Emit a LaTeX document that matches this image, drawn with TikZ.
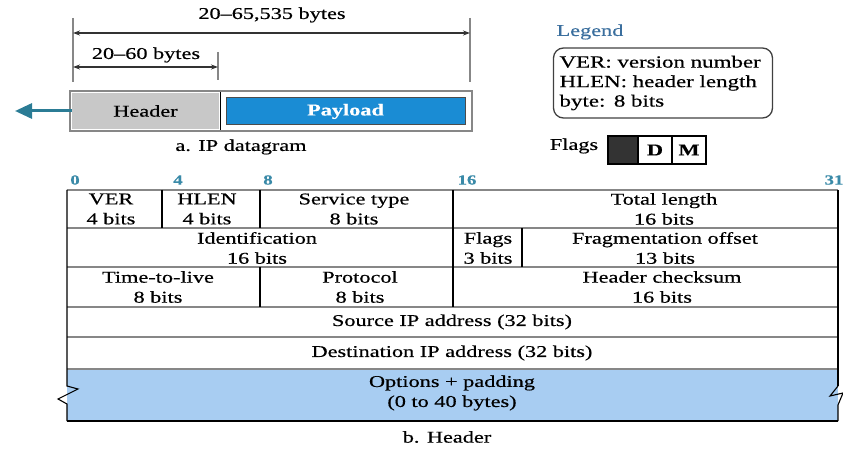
\documentclass[tikz,border=0pt]{standalone}
\usepackage{fontspec}
\setmainfont{Liberation Serif}[FakeStretch=1.35,FakeBold=0.5]
\usetikzlibrary{arrows.meta,positioning}
\definecolor{headergray}{RGB}{200,200,200}
\definecolor{payloadblue}{RGB}{26,140,212}
\definecolor{arrowteal}{RGB}{43,124,149}
\definecolor{legendblue}{RGB}{59,111,158}
\definecolor{bitblue}{RGB}{58,138,168}
\definecolor{optblue}{RGB}{168,205,242}
\definecolor{linegray}{RGB}{135,135,135}
\tikzset{
  txt/.style={font=\fontsize{16.5}{20}\selectfont, align=center, inner sep=0pt},
  bitno/.style={text=bitblue, font=\fontsize{14}{14}\selectfont\bfseries, inner sep=0pt},
  rowline/.style={linegray, line width=2.4pt},
  colline/.style={black, line width=1.1pt},
  tick/.style={linegray, line width=1.6pt},
  dimline/.style={{Stealth[length=7pt,width=5pt]}-{Stealth[length=7pt,width=5pt]}, black!80, line width=1.2pt}
}
\begin{document}
\begin{tikzpicture}[x=1pt,y=-1pt]
\useasboundingbox (0,0) rectangle (843,449);
% a. IP datagram
\coordinate (dl) at (73,33);
\coordinate (dr) at (470,33);
\coordinate (hl) at (73,67);
\coordinate (hr) at (218,67);
\draw[tick] (73,18) -- (73,82);
\draw[tick] (470,18) -- (470,82);
\draw[tick] (218,52) -- (218,80);
\draw[dimline] (dl) -- (dr);
\draw[dimline] (hl) -- (hr);
\node[txt] (totlen) at (272,15) {20--65,535 bytes};
\node[txt] (hdrlen) at (146,55) {20--60 bytes};
\draw[linegray, line width=2pt] (70,91) rectangle (472,131);
\node[txt, fill=headergray, minimum width=147pt, minimum height=36pt] (header) at (145.5,111) {Header};
\draw[colline, line width=0.8pt] (220,92) -- (220,130);
\node[txt, fill=payloadblue, draw=black!70, line width=1pt, minimum width=239pt, minimum height=27pt, text=white, font=\fontsize{16.5}{20}\selectfont\bfseries] (payload) at (345.5,111.5) {Payload};
\coordinate (out) at (15,111);
\draw[-{Triangle[length=17pt,width=15pt]}, arrowteal, line width=3pt] (header.west) -- (out);
\node[txt] (capa) at (241,147) {a. IP datagram};
% legend
\node[txt, text=legendblue] (legend) at (590,32) {Legend};
\node[txt, draw=black!75, line width=1.3pt, rounded corners=10pt, align=left, minimum width=219pt, minimum height=70pt, text width=207pt, inner sep=6pt, font=\fontsize{17}{19.5}\selectfont] (legbox) at (663,83) {VER: version number\\HLEN: header length\\byte: 8 bits};
\node[txt] (flags) at (574,146) {Flags};
\node[draw=black, line width=2pt, fill=black!80, minimum width=30pt, minimum height=28pt, inner sep=0pt] (fres) at (623,150) {};
\node[txt, draw=black, line width=2pt, minimum width=34pt, minimum height=28pt, font=\fontsize{16.5}{20}\selectfont\bfseries] (fd) at (655,150) {D};
\node[txt, draw=black, line width=2pt, minimum width=34pt, minimum height=28pt, font=\fontsize{16.5}{20}\selectfont\bfseries] (fm) at (689,150) {M};
% b. Header
\foreach \b/\x in {0/75, 4/178, 8/268, 16/467, 31/834} {
  \node[bitno] (bit\b) at (\x,180) {\b};
}
\fill[optblue] (67,369) rectangle (838,421);
\foreach \y in {190, 228, 267, 307, 337, 369} {
  \draw[rowline] (67,\y) -- (838,\y);
}
\draw[colline] (67,190) -- (67,386) -- (78,389) -- (58,399) -- (67,404) -- (67,421);
\draw[colline, line width=2.4pt] (838,190) -- (838,386);
\draw[colline] (838,386) -- (830,396) -- (843,393) -- (838,405) -- (838,421);
\draw[colline, line width=2.2pt] (67,421) -- (838,421);
\draw[colline] (162,190) -- (162,228);
\draw[colline] (260,190) -- (260,228);
\draw[colline] (260,267) -- (260,307);
\draw[colline] (453,190) -- (453,307);
\draw[colline, line width=2pt] (522,228) -- (522,267);
\node[txt] (ver) at (111,209) {VER\\4 bits};
\node[txt] (hlen) at (207,209) {HLEN\\4 bits};
\node[txt] (service) at (354,209) {Service type\\8 bits};
\node[txt] (total) at (664,209) {Total length\\16 bits};
\node[txt] (ident) at (257,248) {Identification\\16 bits};
\node[txt] (flg) at (488,248) {Flags\\3 bits};
\node[txt] (frag) at (665,248) {Fragmentation offset\\13 bits};
\node[txt] (ttl) at (158,287) {Time-to-live\\8 bits};
\node[txt] (proto) at (360,287) {Protocol\\8 bits};
\node[txt] (check) at (662,287) {Header checksum\\16 bits};
\node[txt] (src) at (452,322) {Source IP address (32 bits)};
\node[txt] (dst) at (452,353) {Destination IP address (32 bits)};
\node[txt] (opt) at (452,393) {Options + padding\\(0 to 40 bytes)};
\node[txt] (capb) at (447,437) {b. Header};
\end{tikzpicture}
\end{document}
